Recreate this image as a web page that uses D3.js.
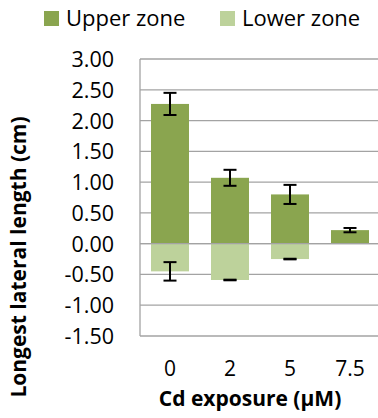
<!DOCTYPE html>
<html>
<head>
<meta charset="utf-8">
<script src="https://cdn.jsdelivr.net/npm/d3@7"></script>
<style>
  html, body { margin: 0; padding: 0; background: #fff; }
  svg { display: block; font-family: "Open Sans", "Liberation Sans", sans-serif; }
</style>
</head>
<body>
<svg id="chart" width="378" height="418"></svg>
<script>
// Longest lateral root length by zone under Cd exposure
const categories = ["0", "2", "5", "7.5"];
const upperValues = [2.27, 1.07, 0.80, 0.22];
const upperErrors = [0.18, 0.13, 0.155, 0.035];
const lowerValues = [-0.45, -0.59, -0.25, 0];
const lowerErrors = [0.15, 0.005, 0.005, 0];
const yTicks = [3.0, 2.5, 2.0, 1.5, 1.0, 0.5, 0.0, -0.5, -1.0, -1.5];
const seriesNames = ["Upper zone", "Lower zone"];
const seriesColors = ["#8aa54f", "#bdd29b"];

const svg = d3.select("#chart");
const plot = { left: 140, right: 380, top: 59, bottom: 336 };

const x = d3.scaleBand()
  .domain(categories)
  .range([plot.left, plot.right])
  .paddingInner(0.3667)
  .paddingOuter(0.1833);

const y = d3.scaleLinear()
  .domain([-1.5, 3.0])
  .range([plot.bottom, plot.top]);

// horizontal gridlines
svg.append("g")
  .selectAll("line")
  .data(yTicks)
  .join("line")
  .attr("x1", plot.left)
  .attr("x2", plot.right)
  .attr("y1", d => y(d))
  .attr("y2", d => y(d))
  .attr("stroke", "#a3a3a3")
  .attr("stroke-width", 1.3);

// bars
const series = [
  { values: upperValues, errors: upperErrors, color: seriesColors[0] },
  { values: lowerValues, errors: lowerErrors, color: seriesColors[1] }
];

series.forEach(s => {
  svg.append("g")
    .selectAll("rect")
    .data(categories.map((c, i) => ({ c, v: s.values[i] })))
    .join("rect")
    .attr("x", d => x(d.c))
    .attr("width", x.bandwidth())
    .attr("y", d => Math.min(y(0), y(d.v)))
    .attr("height", d => Math.abs(y(d.v) - y(0)))
    .attr("fill", s.color);
});

// zero line over the bars
svg.append("line")
  .attr("x1", plot.left).attr("x2", plot.right)
  .attr("y1", y(0)).attr("y2", y(0))
  .attr("stroke", "#a3a3a3").attr("stroke-width", 1.3);

// left axis line
svg.append("line")
  .attr("x1", plot.left).attr("x2", plot.left)
  .attr("y1", plot.top).attr("y2", plot.bottom)
  .attr("stroke", "#a3a3a3").attr("stroke-width", 1.3);

// error bars
const capHalf = 6.5;
series.forEach(s => {
  const g = svg.append("g").attr("stroke", "#000").attr("stroke-width", 2);
  categories.forEach((c, i) => {
    if (s.values[i] === 0) return;
    const cx = x(c) + x.bandwidth() / 2;
    const hi = y(s.values[i] + s.errors[i]);
    const lo = y(s.values[i] - s.errors[i]);
    g.append("line").attr("x1", cx).attr("x2", cx).attr("y1", hi).attr("y2", lo);
    g.append("line").attr("x1", cx - capHalf).attr("x2", cx + capHalf).attr("y1", hi).attr("y2", hi);
    g.append("line").attr("x1", cx - capHalf).attr("x2", cx + capHalf).attr("y1", lo).attr("y2", lo);
  });
});

// y tick labels
svg.append("g")
  .selectAll("text")
  .data(yTicks)
  .join("text")
  .attr("x", 114)
  .attr("y", d => y(d) + 8)
  .attr("text-anchor", "end")
  .attr("font-size", 21.5)
  .attr("fill", "#000")
  .text(d => d3.format(".2f")(d).replace("\u2212", "-"));

// x tick labels
svg.append("g")
  .selectAll("text")
  .data(categories)
  .join("text")
  .attr("x", d => x(d) + x.bandwidth() / 2)
  .attr("y", 376)
  .attr("text-anchor", "middle")
  .attr("font-size", 21)
  .attr("fill", "#000")
  .text(d => d);

// axis titles
svg.append("text")
  .attr("x", 250)
  .attr("y", 406)
  .attr("text-anchor", "middle")
  .attr("font-size", 21)
  .attr("font-weight", "bold")
  .text("Cd exposure (\u00b5M)");

svg.append("text")
  .attr("transform", "translate(26,257) rotate(-90)")
  .attr("text-anchor", "middle")
  .attr("font-size", 21)
  .attr("font-weight", "bold")
  .text("Longest lateral length (cm)");

// legend
const legendX = [44, 220];
seriesNames.forEach((name, i) => {
  svg.append("rect")
    .attr("x", legendX[i]).attr("y", 11)
    .attr("width", 15).attr("height", 15)
    .attr("fill", seriesColors[i]);
  svg.append("text")
    .attr("x", legendX[i] + 22).attr("y", 26)
    .attr("font-size", 22)
    .text(name);
});
</script>
</body>
</html>
